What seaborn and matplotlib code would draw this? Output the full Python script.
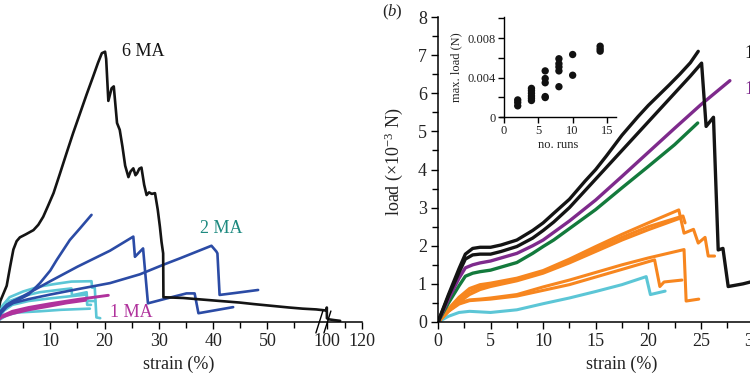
import numpy as np
import pandas as pd
import matplotlib
matplotlib.use("Agg")
import matplotlib.pyplot as plt
from matplotlib.ticker import FixedLocator, FuncFormatter
import seaborn as sns

sns.set_theme(style="ticks")
plt.rcParams['font.family'] = ['Liberation Serif', 'DejaVu Serif']
plt.rcParams['mathtext.fontset'] = 'custom'
plt.rcParams['mathtext.rm'] = 'Liberation Serif'
plt.rcParams['mathtext.it'] = 'Liberation Serif:italic'

# ---------------- panel (a) data: strain (%) and load (x1e-3 N) ----------------
a_black_x = [0, 0.8, 1.97, 2.6, 3.2, 3.8, 4.4, 5.5, 6.9, 7.8, 8.7, 9.6, 10.6, 11.8, 13.0, 14.2, 15.5, 16.7,
             17.9, 18.8, 19.5, 20.1, 20.3, 20.7, 21.3, 21.7, 22.3, 22.8, 23.3, 23.8, 24.4, 24.8, 25.3, 25.7,
             26.0, 26.4, 26.8, 27.3, 27.75, 28.2, 28.7, 29.3, 29.8, 30.2, 30.5, 30.8, 30.85, 34.5, 37.0,
             40.5, 44.9, 47.5, 51.1, 54.0, 56.5, 59.0, 98.5, 99.0, 99.5, 101, 104, 107.5]
a_black_y = [0, 0.55, 0.95, 1.45, 1.9, 2.12, 2.22, 2.3, 2.41, 2.55, 2.76, 3.05, 3.38, 3.9, 4.43, 4.95, 5.48, 5.97,
             6.44, 6.8, 7.05, 7.09, 6.9, 5.8, 6.13, 6.18, 5.22, 5.04, 4.6, 4.1, 3.8, 3.95, 4.03, 3.85,
             3.9, 4.02, 4.05, 3.6, 3.33, 3.4, 3.36, 3.38, 2.95, 2.5, 2.1, 1.8, 0.65, 0.63, 0.6,
             0.56, 0.51, 0.47, 0.42, 0.38, 0.35, 0.33, 0.3, 0.38, 0.1, 0.07, 0.05, 0.03]

a_blue1_x = [0, 1, 2, 3.2, 4.4, 6, 8.1, 10, 11.2, 12.4, 13.6, 15.5, 17.6]
a_blue1_y = [0, 0.3, 0.45, 0.55, 0.6, 0.72, 1.02, 1.35, 1.63, 1.89, 2.15, 2.46, 2.81]
a_blue2_x = [0, 1, 2, 3.2, 5, 10, 15, 21, 25.3, 25.6, 27.1, 28.0, 31.5, 35.1, 36.6, 37.3, 43.7]
a_blue2_y = [0, 0.3, 0.45, 0.55, 0.68, 1.07, 1.45, 1.87, 2.24, 1.71, 1.93, 0.49, 0.62, 0.75, 0.75, 0.23, 0.39]
a_blue3_x = [0, 1, 2, 3.2, 6, 10, 15, 21, 26.5, 30.8, 33.9, 39.7, 40.6, 40.8, 41.2, 44, 48.3]
a_blue3_y = [0, 0.25, 0.4, 0.5, 0.6, 0.72, 0.86, 1.02, 1.25, 1.5, 1.67, 2.0, 1.85, 1.8, 0.71, 0.76, 0.84]

a_cyan1_x = [0, 1, 2.5, 5, 8, 11, 13.9, 17.6, 17.7, 18.2, 18.5, 19.2]
a_cyan1_y = [0, 0.4, 0.65, 0.8, 0.93, 1.0, 1.06, 1.07, 0.9, 0.9, 0.12, 0.1]
a_cyan2_x = [0, 1, 2.5, 5, 8, 12, 13.9, 14.0, 16.7, 16.8, 18.3]
a_cyan2_y = [0, 0.35, 0.55, 0.68, 0.78, 0.85, 0.88, 0.7, 0.78, 0.55, 0.55]
a_cyan3_x = [0, 1.5, 3, 6, 10, 14, 16.7, 16.8, 17.5]
a_cyan3_y = [0, 0.3, 0.45, 0.55, 0.62, 0.68, 0.72, 0.45, 0.45]
a_cyan4_x = [0, 2, 4, 8, 12, 17.3]
a_cyan4_y = [0, 0.18, 0.25, 0.28, 0.32, 0.35]

a_mag1_x = [0, 1, 3, 6, 10, 15, 20.7]
a_mag1_y = [0, 0.15, 0.28, 0.38, 0.48, 0.59, 0.7]
a_mag2_x = [0, 1, 3, 6, 10, 13, 16.5]
a_mag2_y = [0, 0.12, 0.22, 0.32, 0.42, 0.5, 0.57]

a_labels = ["6 MA", "2 MA", "1 MA"]
a_label_x = [23.2, 37.6, 21.0]
a_label_y = [7.09, 2.44, 0.24]

# ---------------- panel (b) data ----------------
b_black1_x = [0, 1, 2, 2.6, 3.3, 4, 5, 6, 7.5, 9, 10, 11, 12.5, 14, 15, 16, 17.5, 19, 20, 21, 22, 23, 24, 24.75]
b_black1_y = [0, 0.72, 1.4, 1.78, 1.93, 1.96, 1.96, 2.02, 2.15, 2.4, 2.6, 2.85, 3.22, 3.7, 4.0, 4.35, 4.9,
              5.38, 5.68, 5.95, 6.22, 6.5, 6.8, 7.1]
b_black2_x = [0, 1, 2, 2.6, 3.3, 4, 5, 6, 7.5, 9, 10, 11, 12.5, 14, 15, 16, 17.5, 19, 20, 21, 22, 23, 24, 25.07,
              25.5, 26.2, 26.65, 27.1, 27.6, 29, 30]
b_black2_y = [0, 0.68, 1.3, 1.65, 1.76, 1.78, 1.78, 1.85, 1.98, 2.2, 2.4, 2.62, 3.0, 3.45, 3.75, 4.05, 4.5,
              4.95, 5.25, 5.55, 5.85, 6.15, 6.45, 6.79, 5.13, 5.37, 1.89, 1.93, 0.93, 1.0, 1.07]
b_purple_x = [0, 1, 2, 2.6, 3.3, 4, 5, 6, 7.5, 9, 10, 12.5, 15, 17.5, 20, 22.5, 25, 27.76]
b_purple_y = [0, 0.6, 1.15, 1.42, 1.5, 1.55, 1.6, 1.68, 1.8, 2.0, 2.15, 2.65, 3.2, 3.82, 4.45, 5.08, 5.7, 6.33]
b_green_x = [0, 1, 2, 2.6, 3.3, 4, 5, 6, 7.5, 9, 10, 11, 12.5, 14, 15, 17.5, 20, 22.5, 24.7]
b_green_y = [0, 0.5, 0.95, 1.2, 1.28, 1.32, 1.36, 1.44, 1.56, 1.8, 1.98, 2.15, 2.45, 2.75, 2.95, 3.52, 4.08,
             4.65, 5.22]
b_orange1_x = [0, 1, 2, 3, 4, 5, 7.5, 10, 12.5, 15, 17.5, 20, 22.9, 23.4, 24.3, 24.75, 25.4, 25.7, 26.3]
b_orange1_y = [0, 0.35, 0.65, 0.88, 0.98, 1.02, 1.15, 1.35, 1.65, 1.98, 2.3, 2.6, 2.94, 2.33, 2.43, 2.07, 2.22,
               1.73, 1.73]
b_orange2_x = [0, 1, 2, 3, 4, 5, 7.5, 10, 12.5, 15, 17.5, 20, 23.3, 23.5]
b_orange2_y = [0, 0.3, 0.58, 0.8, 0.92, 0.98, 1.12, 1.32, 1.6, 1.92, 2.22, 2.5, 2.78, 2.6]
b_orange3_x = [0, 1, 2, 3, 4, 5, 7.5, 10, 12.5, 15, 17.5, 20, 23.0]
b_orange3_y = [0, 0.28, 0.52, 0.72, 0.85, 0.93, 1.08, 1.28, 1.55, 1.85, 2.15, 2.42, 2.72]
b_orange4_x = [0, 1, 2, 3, 4, 5, 7.5, 10, 12.5, 15, 17.5, 20, 23.4, 23.6, 24.8]
b_orange4_y = [0, 0.3, 0.5, 0.58, 0.6, 0.63, 0.72, 0.92, 1.1, 1.3, 1.5, 1.68, 1.9, 0.55, 0.6]
b_orange5_x = [0, 1, 2, 3, 5, 7.5, 10, 12.5, 15, 17.5, 20.6, 21.1, 21.5, 23.2]
b_orange5_y = [0, 0.28, 0.47, 0.56, 0.6, 0.68, 0.83, 0.98, 1.18, 1.38, 1.63, 0.93, 1.05, 1.1]
b_cyan_x = [0, 1, 2, 3, 5, 7.5, 10, 12.5, 15, 17.5, 19.8, 20.2, 21.6]
b_cyan_y = [0, 0.15, 0.25, 0.28, 0.25, 0.32, 0.48, 0.63, 0.8, 0.98, 1.19, 0.72, 0.81]
b_labels = ["14 MA", "10 MA"]
b_label_x = [29.2, 29.2]
b_label_y = [7.05, 6.1]

# inset: number of runs vs max load (N)
runs = [2, 2, 2, 4, 4, 4, 4, 4, 4, 6, 6, 6, 6, 6, 8, 8, 8, 8, 8, 10, 10, 14, 14, 14]
maxload = [0.00173, 0.00147, 0.00113, 0.0029, 0.00267, 0.0024, 0.00213, 0.0019, 0.00167,
           0.00467, 0.0039, 0.00347, 0.00207, 0.00197, 0.0059, 0.0054, 0.00507, 0.00467, 0.00307,
           0.00633, 0.00423, 0.00717, 0.0069, 0.00667]

# ---------------- colours ----------------
C_BLACK = '#141414'
C_BLUE = '#2b4ba5'
C_CYAN = '#5cc6d6'
C_MAG = '#b0329c'
C_TEAL = '#1e8a80'
C_PURPLE = '#7e2a8c'
C_GREEN = '#137a3c'
C_ORANGE = '#f7861f'

# ---------------- broken-axis scale for panel (a) ----------------
def fwd(x):
    x = np.asarray(x, dtype=float)
    return np.where(x <= 59, x, np.where(x < 100, 59 + (x - 59) * 2.0 / 41.0, 61 + (x - 100) * 0.322))

def inv(u):
    u = np.asarray(u, dtype=float)
    return np.where(u <= 59, u, np.where(u < 61, 59 + (u - 59) * 41.0 / 2.0, 100 + (u - 61) / 0.322))

fig = plt.figure(figsize=(7.5, 3.75), dpi=100)
axL = fig.add_axes([-4 / 750, 53 / 375, 366 / 750, 305 / 375])
axR = fig.add_axes([438 / 750, 53 / 375, 368 / 750, 305 / 375])
axI = fig.add_axes([500 / 750, (375 - 117) / 375, 116 / 750, 100 / 375])

def draw(ax, xs, ys, color, lw):
    sns.lineplot(x=xs, y=ys, ax=ax, color=color, lw=lw, sort=False, estimator=None,
                 legend=False, solid_joinstyle='round', solid_capstyle='round')

# ---- panel (a)
axL.set_xscale('function', functions=(fwd, inv))
for xs, ys in [(a_cyan1_x, a_cyan1_y), (a_cyan2_x, a_cyan2_y), (a_cyan3_x, a_cyan3_y), (a_cyan4_x, a_cyan4_y)]:
    draw(axL, xs, ys, C_CYAN, 1.9)
for xs, ys in [(a_mag1_x, a_mag1_y), (a_mag2_x, a_mag2_y)]:
    draw(axL, xs, ys, C_MAG, 2.1)
for xs, ys in [(a_blue1_x, a_blue1_y), (a_blue2_x, a_blue2_y), (a_blue3_x, a_blue3_y)]:
    draw(axL, xs, ys, C_BLUE, 1.9)
draw(axL, a_black_x, a_black_y, C_BLACK, 1.9)

for t, x, y, c in zip(a_labels, a_label_x, a_label_y, [C_BLACK, C_TEAL, C_MAG]):
    axL.text(x, y, t, color=c, fontsize=13, ha='left', va='center')

axL.set_xlim(0, 120)
axL.set_ylim(0, 8)
axL.xaxis.set_major_locator(FixedLocator([10, 20, 30, 40, 50, 100, 120]))
axL.xaxis.set_minor_locator(FixedLocator([5, 15, 25, 35, 45, 55, 110]))
axL.xaxis.set_major_formatter(FuncFormatter(lambda v, p: f"{v:g}"))
axL.xaxis.set_minor_formatter(FuncFormatter(lambda v, p: ""))
axL.set_yticks([])
axL.set_xlabel("strain (%)", fontsize=13)
axL.set_ylabel("")
for s in ['top', 'right', 'left']:
    axL.spines[s].set_visible(False)
# break marks
for x0, x1 in [(0.874, 0.893), (0.896, 0.915)]:
    axL.plot([x0, x1], [-0.036, 0.036], transform=axL.transAxes, color='black', lw=1.0, clip_on=False)

# ---- panel (b)
draw(axR, b_cyan_x, b_cyan_y, C_CYAN, 2.2)
for xs, ys in [(b_orange5_x, b_orange5_y), (b_orange4_x, b_orange4_y), (b_orange3_x, b_orange3_y),
               (b_orange2_x, b_orange2_y), (b_orange1_x, b_orange1_y)]:
    draw(axR, xs, ys, C_ORANGE, 2.2)
draw(axR, b_green_x, b_green_y, C_GREEN, 2.4)
draw(axR, b_purple_x, b_purple_y, C_PURPLE, 2.4)
draw(axR, b_black2_x, b_black2_y, C_BLACK, 2.4)
draw(axR, b_black1_x, b_black1_y, C_BLACK, 2.4)
for t, x, y, c in zip(b_labels, b_label_x, b_label_y, [C_BLACK, C_PURPLE]):
    axR.text(x, y, t, color=c, fontsize=13, ha='left', va='center', clip_on=False)

axR.set_xlim(0, 35)
axR.set_ylim(0, 8)
axR.set_xticks(np.arange(0, 36, 5))
axR.set_xticks(np.arange(2.5, 35, 5), minor=True)
axR.set_yticks(np.arange(0, 9, 1))
axR.set_yticks(np.arange(0.5, 8, 1), minor=True)
axR.set_xlabel("strain (%)", fontsize=13)
axR.set_ylabel(r"load (×10$^{-3}$ N)", fontsize=13)
axR.yaxis.set_label_coords(-0.09, 0.525)
for s in ['top', 'right']:
    axR.spines[s].set_visible(False)

for ax in (axL, axR):
    ax.set_facecolor('none')
    ax.tick_params(which='major', direction='out', length=5, width=1.0, labelsize=13, color='black',
                   labelcolor='#222222', pad=3)
    ax.tick_params(which='minor', direction='out', length=4, width=1.0, color='black')
    for s in ax.spines.values():
        s.set_color('black')
        s.set_linewidth(1.1)
    ax.xaxis.label.set_color('#222222')
    ax.yaxis.label.set_color('#222222')

# ---- inset
sns.scatterplot(x=runs, y=maxload, ax=axI, color='#111111', s=28, edgecolor='none', legend=False)
axI.set_xlim(-0.58, 16.31)
axI.set_ylim(0, 0.01013)
axI.set_xticks([0, 5, 10, 15])
axI.set_yticks([0, 0.004, 0.008])
axI.set_yticks([0.002, 0.006, 0.010], minor=True)
axI.yaxis.set_major_formatter(FuncFormatter(lambda v, p: "0" if v == 0 else f"{v:.3f}"))
axI.spines['left'].set_position(('data', 0))
for s in ['top', 'right']:
    axI.spines[s].set_visible(False)
for s in ['left', 'bottom']:
    axI.spines[s].set_color('black')
    axI.spines[s].set_linewidth(1.0)
axI.set_facecolor('none')
axI.tick_params(which='major', direction='out', length=4, width=1.0, labelsize=9, color='black',
                labelcolor='#222222', pad=2)
axI.tick_params(which='minor', direction='out', length=4, width=1.0, color='black')
axI.set_xlabel("no. runs", fontsize=9, color='#222222', labelpad=1)
axI.set_ylabel("max. load (N)", fontsize=9, color='#222222', labelpad=4)

fig.text(392 / 750, 1 - 12 / 375, r"($\mathit{b}$)", ha='center', va='center', fontsize=12, color='#222222')

fig.savefig("out.png", dpi=100)
